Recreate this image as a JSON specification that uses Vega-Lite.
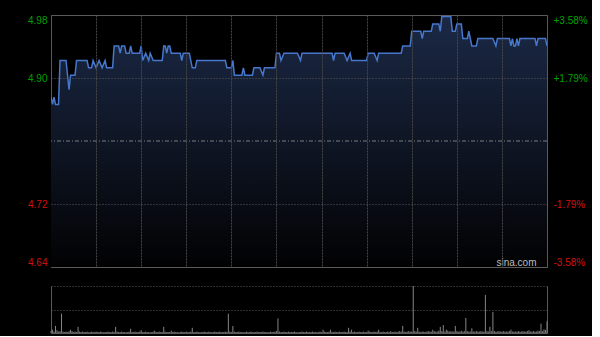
{
  "$schema": "https://vega.github.io/schema/vega-lite/v6.json",
  "background": "#000000",
  "padding": {"left": 27, "top": 14, "right": 4, "bottom": 2},
  "bounds": "flush",
  "spacing": 19,
  "config": {
    "view": {"stroke": "#5a5a5a", "strokeWidth": 1},
    "axis": {"labelFont": "Liberation Sans", "labelFontSize": 10, "ticks": false, "domain": false, "labelOverlap": false}
  },
  "datasets": {
    "price": [
      {"m":0,"p":4.87},{"m":1,"p":4.86},{"m":2,"p":4.87},{"m":3,"p":4.86},{"m":5,"p":4.86},{"m":6,"p":4.92},
      {"m":10,"p":4.92},{"m":12,"p":4.88},{"m":13,"p":4.90},{"m":16,"p":4.90},{"m":17,"p":4.92},{"m":24,"p":4.92},
      {"m":25,"p":4.91},{"m":27,"p":4.91},{"m":28,"p":4.92},{"m":30,"p":4.91},{"m":32,"p":4.92},{"m":34,"p":4.91},
      {"m":36,"p":4.92},{"m":37,"p":4.91},{"m":41,"p":4.91},{"m":42,"p":4.94},{"m":45,"p":4.94},{"m":46,"p":4.93},
      {"m":47,"p":4.94},{"m":49,"p":4.94},{"m":50,"p":4.93},{"m":52,"p":4.93},{"m":53,"p":4.94},{"m":54,"p":4.93},
      {"m":59,"p":4.93},{"m":60,"p":4.94},{"m":61,"p":4.92},{"m":63,"p":4.93},{"m":65,"p":4.92},{"m":66,"p":4.93},
      {"m":68,"p":4.92},{"m":74,"p":4.92},{"m":75,"p":4.94},{"m":76,"p":4.94},{"m":77,"p":4.93},{"m":78,"p":4.94},
      {"m":79,"p":4.94},{"m":80,"p":4.93},{"m":86,"p":4.93},{"m":87,"p":4.92},{"m":88,"p":4.93},{"m":92,"p":4.93},
      {"m":94,"p":4.91},{"m":96,"p":4.91},{"m":97,"p":4.92},{"m":116,"p":4.92},{"m":117,"p":4.91},{"m":120,"p":4.91},
      {"m":121,"p":4.92},{"m":122,"p":4.90},{"m":127,"p":4.90},{"m":128,"p":4.91},{"m":129,"p":4.90},{"m":134,"p":4.90},
      {"m":135,"p":4.91},{"m":139,"p":4.91},{"m":141,"p":4.90},{"m":142,"p":4.91},{"m":149,"p":4.91},{"m":150,"p":4.93},
      {"m":152,"p":4.93},{"m":153,"p":4.92},{"m":155,"p":4.93},{"m":164,"p":4.93},{"m":166,"p":4.92},{"m":167,"p":4.93},
      {"m":187,"p":4.93},{"m":188,"p":4.92},{"m":189,"p":4.93},{"m":195,"p":4.93},{"m":197,"p":4.92},{"m":199,"p":4.93},
      {"m":200,"p":4.92},{"m":210,"p":4.92},{"m":211,"p":4.93},{"m":215,"p":4.93},{"m":217,"p":4.92},{"m":218,"p":4.93},
      {"m":233,"p":4.93},{"m":234,"p":4.94},{"m":239,"p":4.94},{"m":240,"p":4.96},{"m":246,"p":4.96},{"m":247,"p":4.95},
      {"m":248,"p":4.96},{"m":253,"p":4.96},{"m":254,"p":4.97},{"m":258,"p":4.97},{"m":259,"p":4.96},{"m":260,"p":4.98},
      {"m":266,"p":4.98},{"m":267,"p":4.96},{"m":269,"p":4.96},{"m":270,"p":4.97},{"m":273,"p":4.97},{"m":274,"p":4.95},
      {"m":277,"p":4.95},{"m":278,"p":4.96},{"m":280,"p":4.94},{"m":283,"p":4.94},{"m":284,"p":4.95},{"m":294,"p":4.95},
      {"m":296,"p":4.94},{"m":297,"p":4.95},{"m":305,"p":4.95},{"m":306,"p":4.94},{"m":307,"p":4.95},{"m":308,"p":4.94},
      {"m":309,"p":4.94},{"m":310,"p":4.95},{"m":311,"p":4.94},{"m":312,"p":4.95},{"m":322,"p":4.95},{"m":323,"p":4.94},
      {"m":324,"p":4.95},{"m":329,"p":4.95},{"m":330,"p":4.94}
    ],
    "vol": [
      {"m":0,"v":4},{"m":1,"v":7},{"m":2,"v":3},{"m":3,"v":15},{"m":4,"v":6},{"m":5,"v":3},{"m":6,"v":4},{"m":7,"v":41},{"m":8,"v":3},{"m":9,"v":2},
      {"m":10,"v":3},{"m":11,"v":2},{"m":12,"v":4},{"m":13,"v":7},{"m":14,"v":4},{"m":15,"v":2},{"m":16,"v":3},{"m":17,"v":2},{"m":18,"v":13},{"m":19,"v":3},
      {"m":20,"v":2},{"m":21,"v":3},{"m":22,"v":2},{"m":23,"v":2},{"m":24,"v":3},{"m":25,"v":1},{"m":26,"v":2},{"m":27,"v":3},{"m":28,"v":2},{"m":29,"v":2},
      {"m":30,"v":3},{"m":31,"v":2},{"m":32,"v":2},{"m":33,"v":3},{"m":34,"v":2},{"m":35,"v":1},{"m":36,"v":2},{"m":37,"v":2},{"m":38,"v":3},{"m":39,"v":2},
      {"m":40,"v":2},{"m":41,"v":3},{"m":42,"v":2},{"m":43,"v":13},{"m":44,"v":3},{"m":45,"v":2},{"m":46,"v":2},{"m":47,"v":3},{"m":48,"v":2},{"m":49,"v":2},
      {"m":50,"v":1},{"m":51,"v":2},{"m":52,"v":3},{"m":53,"v":9},{"m":54,"v":2},{"m":55,"v":2},{"m":56,"v":3},{"m":57,"v":2},{"m":58,"v":2},{"m":59,"v":3},
      {"m":60,"v":6},{"m":61,"v":2},{"m":62,"v":2},{"m":63,"v":3},{"m":64,"v":2},{"m":65,"v":2},{"m":66,"v":1},{"m":67,"v":2},{"m":68,"v":3},{"m":69,"v":5},
      {"m":70,"v":2},{"m":71,"v":2},{"m":72,"v":3},{"m":73,"v":2},{"m":74,"v":2},{"m":75,"v":13},{"m":76,"v":3},{"m":77,"v":2},{"m":78,"v":2},{"m":79,"v":2},
      {"m":80,"v":5},{"m":81,"v":2},{"m":82,"v":3},{"m":83,"v":2},{"m":84,"v":2},{"m":85,"v":1},{"m":86,"v":2},{"m":87,"v":3},{"m":88,"v":2},{"m":89,"v":2},
      {"m":90,"v":3},{"m":91,"v":2},{"m":92,"v":2},{"m":93,"v":3},{"m":94,"v":11},{"m":95,"v":2},{"m":96,"v":2},{"m":97,"v":3},{"m":98,"v":2},{"m":99,"v":1},
      {"m":100,"v":2},{"m":101,"v":2},{"m":102,"v":3},{"m":103,"v":2},{"m":104,"v":2},{"m":105,"v":3},{"m":106,"v":2},{"m":107,"v":1},{"m":108,"v":2},{"m":109,"v":3},
      {"m":110,"v":2},{"m":111,"v":2},{"m":112,"v":3},{"m":113,"v":2},{"m":114,"v":2},{"m":115,"v":2},{"m":116,"v":3},{"m":117,"v":2},{"m":118,"v":41},{"m":119,"v":3},
      {"m":120,"v":2},{"m":121,"v":15},{"m":122,"v":3},{"m":123,"v":2},{"m":124,"v":2},{"m":125,"v":3},{"m":126,"v":2},{"m":127,"v":2},{"m":128,"v":1},{"m":129,"v":2},
      {"m":130,"v":3},{"m":131,"v":2},{"m":132,"v":2},{"m":133,"v":3},{"m":134,"v":2},{"m":135,"v":2},{"m":136,"v":2},{"m":137,"v":3},{"m":138,"v":2},{"m":139,"v":2},
      {"m":140,"v":2},{"m":141,"v":3},{"m":142,"v":2},{"m":143,"v":2},{"m":144,"v":1},{"m":145,"v":2},{"m":146,"v":3},{"m":147,"v":2},{"m":148,"v":2},{"m":149,"v":3},
      {"m":150,"v":4},{"m":151,"v":31},{"m":152,"v":3},{"m":153,"v":2},{"m":154,"v":2},{"m":155,"v":3},{"m":156,"v":2},{"m":157,"v":2},{"m":158,"v":3},{"m":159,"v":2},
      {"m":160,"v":2},{"m":161,"v":2},{"m":162,"v":3},{"m":163,"v":2},{"m":164,"v":1},{"m":165,"v":2},{"m":166,"v":2},{"m":167,"v":3},{"m":168,"v":2},{"m":169,"v":2},
      {"m":170,"v":3},{"m":171,"v":2},{"m":172,"v":2},{"m":173,"v":2},{"m":174,"v":3},{"m":175,"v":2},{"m":176,"v":2},{"m":177,"v":1},{"m":178,"v":2},{"m":179,"v":3},
      {"m":180,"v":2},{"m":181,"v":7},{"m":182,"v":3},{"m":183,"v":2},{"m":184,"v":2},{"m":185,"v":3},{"m":186,"v":7},{"m":187,"v":2},{"m":188,"v":2},{"m":189,"v":3},
      {"m":190,"v":2},{"m":191,"v":2},{"m":192,"v":3},{"m":193,"v":2},{"m":194,"v":2},{"m":195,"v":3},{"m":196,"v":2},{"m":197,"v":2},{"m":198,"v":11},{"m":199,"v":3},
      {"m":200,"v":7},{"m":201,"v":2},{"m":202,"v":3},{"m":203,"v":2},{"m":204,"v":2},{"m":205,"v":3},{"m":206,"v":2},{"m":207,"v":2},{"m":208,"v":3},{"m":209,"v":2},
      {"m":210,"v":2},{"m":211,"v":5},{"m":212,"v":3},{"m":213,"v":2},{"m":214,"v":2},{"m":215,"v":3},{"m":216,"v":2},{"m":217,"v":3},{"m":218,"v":7},{"m":219,"v":2},
      {"m":220,"v":2},{"m":221,"v":3},{"m":222,"v":2},{"m":223,"v":2},{"m":224,"v":3},{"m":225,"v":2},{"m":226,"v":4},{"m":227,"v":2},{"m":228,"v":2},{"m":229,"v":3},
      {"m":230,"v":2},{"m":231,"v":3},{"m":232,"v":4},{"m":233,"v":3},{"m":234,"v":15},{"m":235,"v":3},{"m":236,"v":2},{"m":237,"v":3},{"m":238,"v":4},{"m":239,"v":3},
      {"m":240,"v":3},{"m":241,"v":100},{"m":242,"v":4},{"m":243,"v":3},{"m":244,"v":11},{"m":245,"v":3},{"m":246,"v":2},{"m":247,"v":3},{"m":248,"v":3},{"m":249,"v":2},
      {"m":250,"v":3},{"m":251,"v":4},{"m":252,"v":3},{"m":253,"v":3},{"m":254,"v":7},{"m":255,"v":4},{"m":256,"v":3},{"m":257,"v":3},{"m":258,"v":5},{"m":259,"v":13},
      {"m":260,"v":4},{"m":261,"v":17},{"m":262,"v":3},{"m":263,"v":7},{"m":264,"v":5},{"m":265,"v":3},{"m":266,"v":4},{"m":267,"v":3},{"m":268,"v":3},{"m":269,"v":15},
      {"m":270,"v":4},{"m":271,"v":3},{"m":272,"v":3},{"m":273,"v":5},{"m":274,"v":3},{"m":275,"v":4},{"m":276,"v":32},{"m":277,"v":4},{"m":278,"v":3},{"m":279,"v":3},
      {"m":280,"v":10},{"m":281,"v":3},{"m":282,"v":3},{"m":283,"v":4},{"m":284,"v":3},{"m":285,"v":3},{"m":286,"v":4},{"m":287,"v":3},{"m":288,"v":3},{"m":289,"v":81},
      {"m":290,"v":4},{"m":291,"v":3},{"m":292,"v":13},{"m":293,"v":4},{"m":294,"v":45},{"m":295,"v":4},{"m":296,"v":3},{"m":297,"v":3},{"m":298,"v":4},{"m":299,"v":3},
      {"m":300,"v":3},{"m":301,"v":4},{"m":302,"v":3},{"m":303,"v":3},{"m":304,"v":3},{"m":305,"v":4},{"m":306,"v":7},{"m":307,"v":3},{"m":308,"v":3},{"m":309,"v":3},
      {"m":310,"v":3},{"m":311,"v":4},{"m":312,"v":3},{"m":313,"v":3},{"m":314,"v":4},{"m":315,"v":3},{"m":316,"v":3},{"m":317,"v":4},{"m":318,"v":6},{"m":319,"v":3},
      {"m":320,"v":3},{"m":321,"v":4},{"m":322,"v":3},{"m":323,"v":3},{"m":324,"v":5},{"m":325,"v":4},{"m":326,"v":20},{"m":327,"v":4},{"m":328,"v":8},{"m":329,"v":6},
      {"m":330,"v":25}
    ]
  },
  "vconcat": [
    {
      "width": 496,
      "height": 252,
      "layer": [
        {
          "data": {"name": "price"},
          "mark": {"type": "area", "clip": true, "color": {"gradient": "linear", "x1": 0, "y1": 0, "x2": 0, "y2": 1, "stops": [{"offset": 0, "color": "#1b2946"}, {"offset": 1, "color": "#020203"}]}},
          "encoding": {
            "x": {"field": "m", "type": "quantitative", "scale": {"domain": [0, 330], "nice": false, "zero": false},
                  "axis": {"values": [30, 60, 90, 120, 150, 180, 210, 240, 270, 300], "labels": false, "ticks": false, "domain": false, "grid": true, "gridColor": "#464646", "gridDash": [2, 1], "title": null, "zindex": 1}},
            "y": {"field": "p", "type": "quantitative", "scale": {"domain": [4.6378, 4.9822], "nice": false, "zero": false},
                  "axis": {"orient": "left", "values": [4.6378, 4.7239, 4.8961, 4.9822], "format": ".2f", "labelPadding": 4, "grid": true, "gridColor": "#5a5a5a", "gridDash": [1, 2], "title": null, "zindex": 1,
                           "labelColor": {"condition": {"test": "datum.value > 4.81", "value": "#00a000"}, "value": "#d01010"},
                           "labelBaseline": {"condition": [{"test": "datum.value > 4.95", "value": "top"}, {"test": "datum.value < 4.65", "value": "bottom"}], "value": "middle"}}},
            "y2": {"datum": 4.6378}
          }
        },
        {
          "data": {"values": [{}]},
          "mark": {"type": "rule", "color": "#7a7a7a", "strokeDash": [4, 2, 1, 2], "strokeWidth": 1},
          "encoding": {"y": {"datum": 4.81, "type": "quantitative", "axis": null}}
        },
        {
          "data": {"name": "price"},
          "mark": {"type": "line", "color": "#4677cc", "strokeWidth": 1.5, "clip": true},
          "encoding": {
            "x": {"field": "m", "type": "quantitative", "scale": {"domain": [0, 330], "nice": false, "zero": false},
                  "axis": {"values": [30, 60, 90, 120, 150, 180, 210, 240, 270, 300], "labels": false, "ticks": false, "domain": false, "grid": true, "gridColor": "#464646", "gridDash": [2, 1], "title": null, "zindex": 1}},
            "y": {"field": "p", "type": "quantitative",
                  "axis": {"orient": "right", "values": [4.6378, 4.7239, 4.8961, 4.9822], "labelPadding": 6, "grid": false, "title": null, "zindex": 1,
                           "labelExpr": "(datum.value > 4.81 ? '+' : '-') + format(abs(datum.value - 4.81) / 4.81 * 100, '.2f') + '%'",
                           "labelColor": {"condition": {"test": "datum.value > 4.81", "value": "#00a000"}, "value": "#d01010"},
                           "labelBaseline": {"condition": [{"test": "datum.value > 4.95", "value": "top"}, {"test": "datum.value < 4.65", "value": "bottom"}], "value": "middle"}}}
          }
        },
        {
          "data": {"values": [{}]},
          "mark": {"type": "text", "text": "sina.com", "align": "right", "baseline": "alphabetic", "dy": -1, "font": "Liberation Sans", "fontSize": 10, "color": "#bdbdbd"},
          "encoding": {
            "x": {"datum": 323, "type": "quantitative",
                  "axis": {"values": [30, 60, 90, 120, 150, 180, 210, 240, 270, 300], "labels": false, "ticks": false, "domain": false, "grid": true, "gridColor": "#464646", "gridDash": [2, 1], "title": null, "zindex": 1}},
            "y": {"datum": 4.6378, "type": "quantitative", "axis": null}
          }
        }
      ],
      "resolve": {"axis": {"y": "independent"}}
    },
    {
      "width": 496,
      "height": 47,
      "view": {"stroke": null},
      "layer": [
        {
          "data": {"name": "vol"},
          "mark": {"type": "rule", "color": "#858585", "strokeWidth": 1},
          "encoding": {
            "x": {"field": "m", "type": "quantitative", "scale": {"domain": [0, 330], "nice": false, "zero": false},
                  "axis": {"values": [0], "labels": false, "ticks": false, "grid": false, "domain": true, "domainColor": "#5a5a5a", "title": null}},
            "y": {"field": "v", "type": "quantitative", "scale": {"domain": [0, 100], "nice": false},
                  "axis": {"orient": "left", "values": [50, 100], "labels": false, "ticks": false, "grid": true, "gridColor": "#5a5a5a", "gridDash": [1, 2], "domain": true, "domainColor": "#5a5a5a", "title": null}},
            "y2": {"datum": 0}
          }
        },
        {
          "data": {"values": [{}]},
          "mark": {"type": "rule", "color": "#5a5a5a", "strokeWidth": 1},
          "encoding": {"y": {"datum": 0, "type": "quantitative", "axis": {"orient": "right", "labels": false, "ticks": false, "grid": false, "domain": true, "domainColor": "#5a5a5a", "title": null}}}
        }
      ],
      "resolve": {"axis": {"y": "independent"}}
    }
  ]
}
